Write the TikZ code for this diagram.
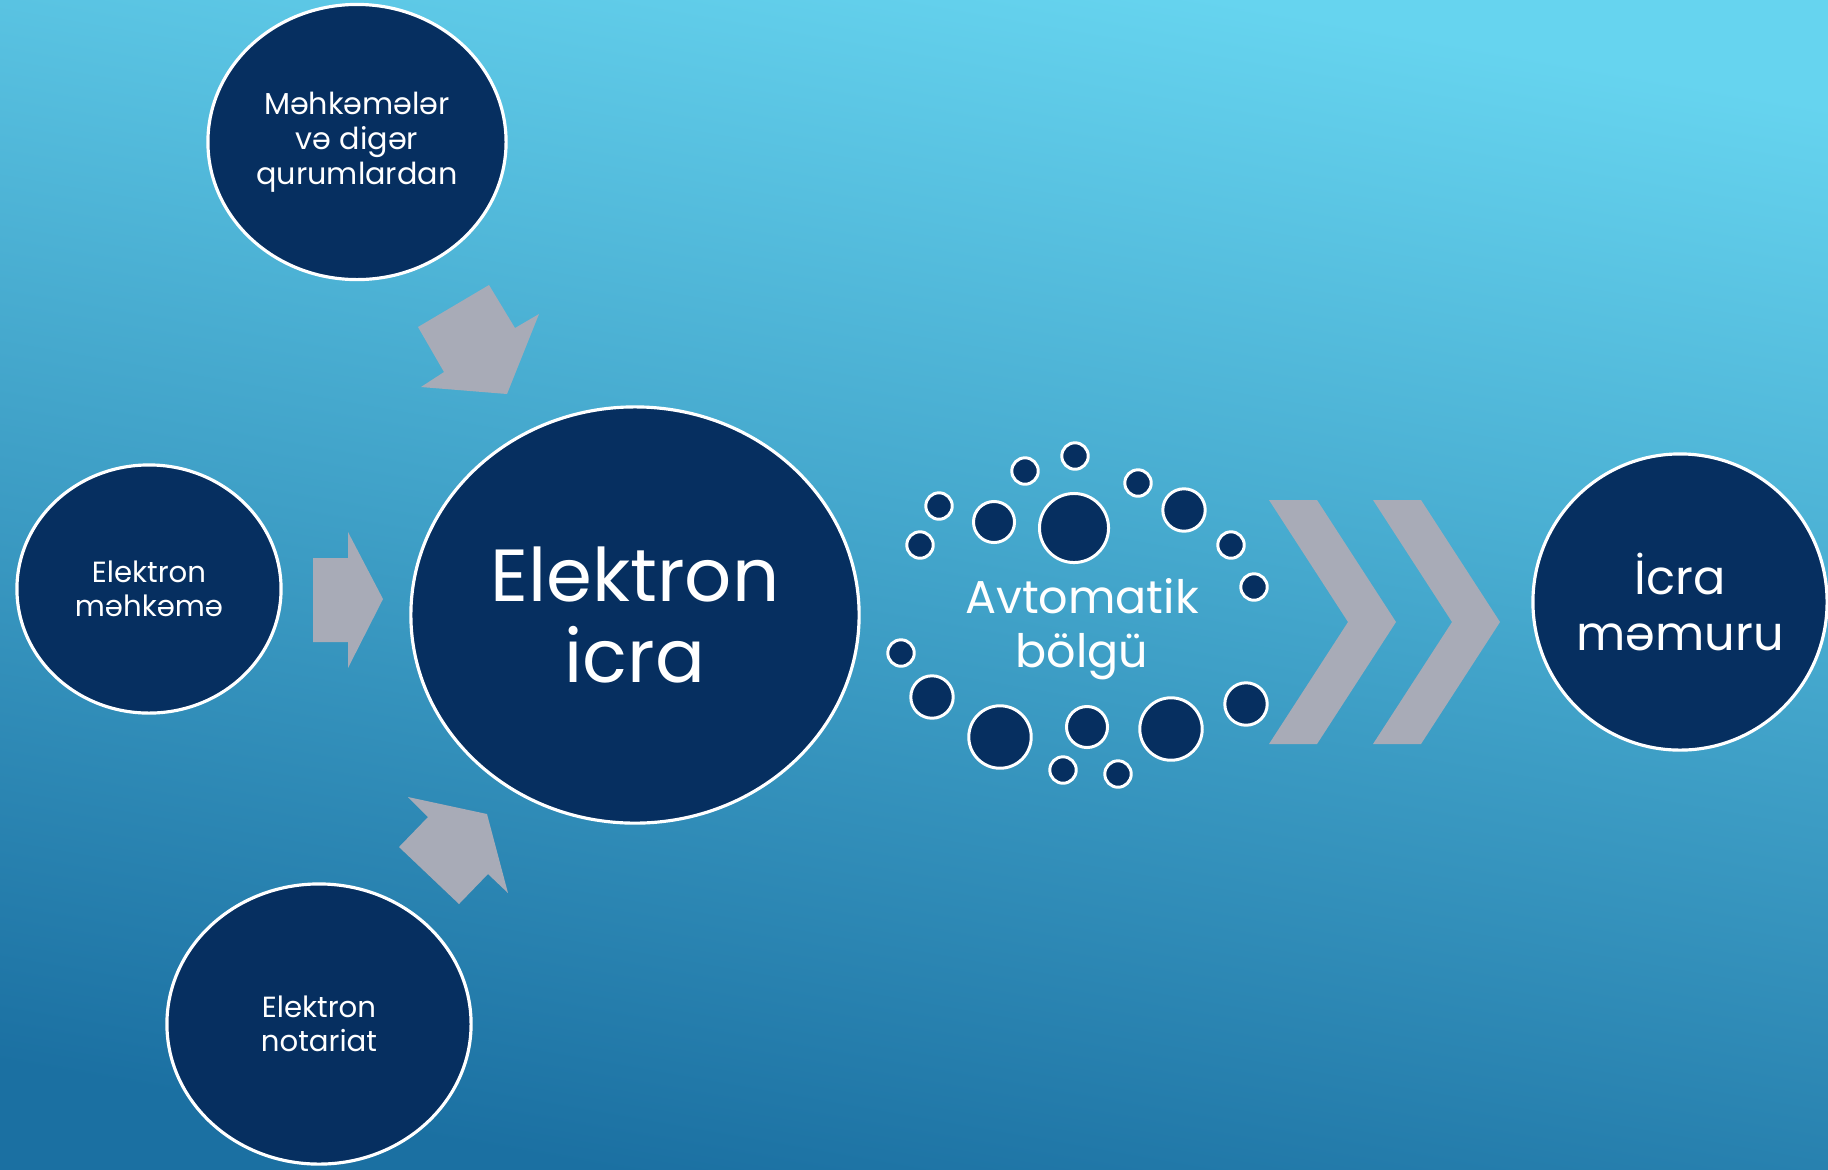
\documentclass[tikz,border=0pt]{standalone}
\usepackage{fontspec}
\setmainfont{Poppins}
\usetikzlibrary{shapes.geometric}

\definecolor{navy}{HTML}{062F60}
\definecolor{greyarrow}{HTML}{A8ABB7}
\definecolor{skytop}{HTML}{66D4EF}
\definecolor{skybottom}{HTML}{1B70A2}

\begin{document}
\begin{tikzpicture}[x=0.01cm, y=-0.01cm,
    bubble/.style={ellipse, draw=white, line width=0.9pt, fill=navy, text=white, align=center, inner sep=-8pt},
    dot/.style={circle, draw=white, line width=0.85pt, fill=navy, inner sep=0pt},
    blockarrow/.style={fill=greyarrow}]
  % background
  \shade[top color=skytop, bottom color=skybottom, shading angle=-10] (0,0) rectangle (1828,1169);
  \useasboundingbox (0,0) rectangle (1828,1169);

  % sources
  \node[bubble, minimum width=2.98cm, minimum height=2.75cm, font=\fontsize{8.6}{10}\selectfont] (courts) at (357,142) {Məhkəmələr\\və digər\\qurumlardan};
  \node[bubble, minimum width=2.64cm, minimum height=2.48cm, font=\fontsize{8.3}{9.7}\selectfont] (ecourt) at (149,589) {Elektron\\məhkəmə};
  \node[bubble, minimum width=3.04cm, minimum height=2.8cm, font=\fontsize{8.3}{9.7}\selectfont] (enotary) at (319,1024) {Elektron\\notariat};

  % centre and target
  \node[bubble, minimum width=4.48cm, minimum height=4.16cm, font=\fontsize{21}{23}\selectfont] (eexec) at (635,615) {Elektron\\icra};
  \node[bubble, minimum width=2.94cm, minimum height=2.96cm, font=\fontsize{13.6}{16}\selectfont] (officer) at (1680,602) {İcra\\məmuru};

  % block arrows
  \fill[blockarrow] (418,327) -- (489,285) -- (515,328) -- (539,314) -- (507,394) -- (421,387) -- (444,372) -- cycle;
  \fill[blockarrow] (313,558) -- (348,558) -- (348,532) -- (383,599) -- (348,668) -- (348,642) -- (313,642) -- cycle;
  \fill[blockarrow] (408,797) -- (487,814) -- (508,893) -- (488,874) -- (459,904) -- (399,847) -- (428,817) -- cycle;

  % chevrons
  \foreach \dx in {0,104}
    \fill[blockarrow] (1269+\dx,500) -- (1317+\dx,500) -- (1396+\dx,622) -- (1317+\dx,744) -- (1269+\dx,744) -- (1348+\dx,622) -- cycle;

  % distribution dots
  \foreach \x/\y/\r [count=\i] in {1075/456/14.7, 1025/471/14.7, 1138/483/14.7, 939/506/14.7, 994/522/22,
      1074/528/36, 1184/510/22.7, 920/545/14.7, 1231/545/14.7, 1254/587/14.7, 901/653/14.7, 932/697/22.7,
      1000/737/32.7, 1087/727/22, 1171/729/32.7, 1246/704/22.7, 1063/770/14.7, 1118/774/14.7}
    \node[dot, minimum size=\r*0.02cm-0.85pt] (dot-\i) at (\x,\y) {};
  \node[text=white, align=center, font=\fontsize{13.1}{15.4}\selectfont] (distrib) at (1082,629) {Avtomatik\\bölgü};
\end{tikzpicture}
\end{document}
